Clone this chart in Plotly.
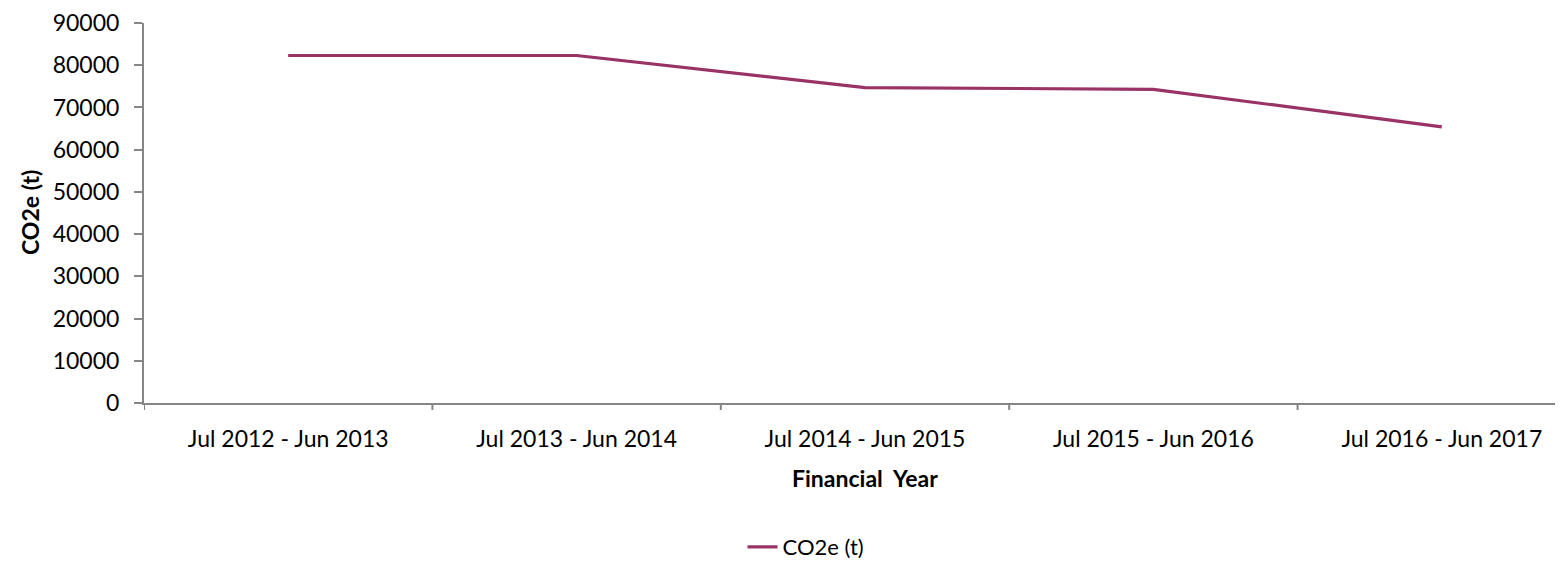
import plotly.graph_objects as go

categories = ["Jul 2012 - Jun 2013", "Jul 2013 - Jun 2014", "Jul 2014 - Jun 2015",
              "Jul 2015 - Jun 2016", "Jul 2016 - Jun 2017"]
co2e_values = [82300, 82300, 74700, 74300, 65400]
series_name = "CO2e (t)"
y_ticks = [0, 10000, 20000, 30000, 40000, 50000, 60000, 70000, 80000, 90000]

FONT = "Lato"
FS = 23
AXIS_GREY = "#868686"
LINE_COLOR = "#993366"

fig = go.Figure()
fig.add_trace(go.Scatter(
    x=list(range(len(categories))), y=co2e_values, mode="lines", name=series_name,
    line=dict(color=LINE_COLOR, width=3.2),
))

# page body has an 8px margin, so the figure starts at (8, 8) on the page
W, H = 1555, 554
L, T = 136, 15
B = H - 395
R = 0
plot_w = W - L - R
plot_h = H - T - B
cat_w = 288.4

fig.update_layout(
    width=W, height=H,
    margin=dict(l=L, r=R, t=T, b=B, autoexpand=False),
    paper_bgcolor="white", plot_bgcolor="white",
    font=dict(family=FONT, size=FS, color="black"),
    showlegend=True,
    legend=dict(orientation="h", x=(798 - L) / plot_w, xanchor="center",
                y=(395 - 539) / plot_h, yanchor="middle",
                font=dict(family=FONT, size=22, color="black")),
    xaxis=dict(
        range=[-0.5, -0.5 + plot_w / cat_w],
        tickmode="array", tickvals=list(range(len(categories))), ticktext=categories,
        showgrid=False, zeroline=False,
        showline=True, linecolor=AXIS_GREY, linewidth=2,
        ticks="", ticklabelstandoff=14,
        tickfont=dict(family=FONT, size=FS, color="black"),
    ),
    yaxis=dict(
        range=[0, 90000], tickvals=y_ticks, tickformat="d",
        showgrid=False, zeroline=False,
        showline=True, linecolor=AXIS_GREY, linewidth=2,
        ticks="outside", ticklen=8, tickcolor=AXIS_GREY, tickwidth=2,
        ticklabelstandoff=10,
        tickfont=dict(family=FONT, size=FS, color="black"),
    ),
)

# category boundary tick marks on the x axis
for i in range(len(categories) + 1):
    fig.add_shape(type="line", xref="x", yref="paper",
                  x0=i - 0.5, x1=i - 0.5, y0=0, y1=-7 / plot_h,
                  line=dict(color=AXIS_GREY, width=2))

fig.add_annotation(text="<b>Financial  Year</b>", xref="x", yref="paper",
                   x=2, y=(395 - 470) / plot_h, xanchor="center", yanchor="middle",
                   showarrow=False, font=dict(family=FONT, size=FS, color="black"))
fig.add_annotation(text="<b>CO2e (t)</b>", xref="paper", yref="paper",
                   x=(22 - L) / plot_w, y=0.5, xanchor="center", yanchor="middle",
                   textangle=-90, showarrow=False,
                   font=dict(family=FONT, size=FS, color="black"))

fig.write_html("out.html")
